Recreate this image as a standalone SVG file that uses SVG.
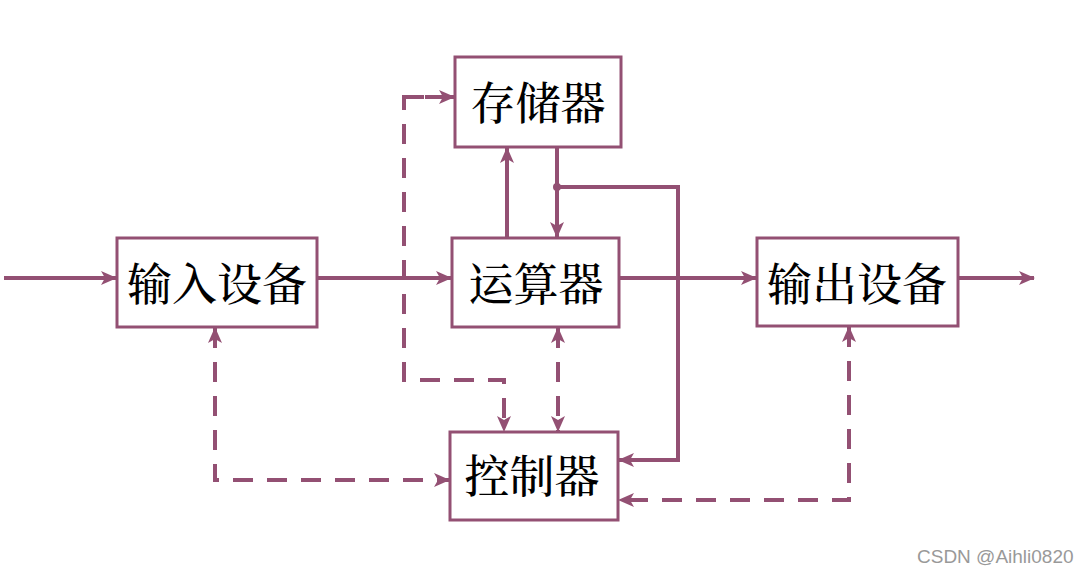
<svg xmlns="http://www.w3.org/2000/svg" width="1088" height="574" viewBox="0 0 1088 574">
<style>
.box{fill:#fff;stroke:#935073;stroke-width:3}
.lbl{font-family:"Noto Serif CJK SC","Noto Sans CJK SC",serif;font-size:45px;font-weight:500;fill:#000;text-anchor:middle;dominant-baseline:central}
.s{fill:none;stroke:#935073;stroke-width:4}
.d{fill:none;stroke:#935073;stroke-width:4;stroke-dasharray:20 14}
.wm{font-family:"Liberation Sans",Arial,sans-serif;font-size:19px;fill:#999}
</style>
<defs>
<marker id="ah" viewBox="0 0 16 14" refX="15" refY="7" markerWidth="16" markerHeight="14" markerUnits="userSpaceOnUse" orient="auto-start-reverse">
<path d="M0,0 L16,7 L0,14 L4,7 Z" fill="#935073"/>
</marker>
</defs>
<g id="connectors">
<path class="s" d="M4,278 H116" marker-end="url(#ah)"/>
<path class="s" d="M318,278 H451" marker-end="url(#ah)"/>
<path class="s" d="M620,278 H756" marker-end="url(#ah)"/>
<path class="s" d="M959,278 H1034" marker-end="url(#ah)"/>
<path class="s" d="M507,237 V148" marker-end="url(#ah)"/>
<path class="s" d="M557,148 V237" marker-end="url(#ah)"/>
<circle cx="557" cy="187" r="4" fill="#935073"/>
<path class="s" d="M557,187 H678 V460 H619" marker-end="url(#ah)"/>
<path class="d" d="M445,97 H404 V380 H504 V431" marker-end="url(#ah)"/>
<path class="d" d="M404,97 H454" marker-end="url(#ah)"/>
<path class="d" d="M558,328 V431" marker-start="url(#ah)" marker-end="url(#ah)"/>
<path class="d" d="M215,328 V480 H449" marker-start="url(#ah)" marker-end="url(#ah)"/>
<path class="d" d="M849,327 V500 H619" marker-start="url(#ah)" marker-end="url(#ah)"/>
</g>
<g id="storage"><rect class="box" x="455" y="57" width="166" height="90"/><text class="lbl" x="538" y="100">存储器</text></g>
<g id="input"><rect class="box" x="117" y="238" width="200" height="89"/><text class="lbl" x="217" y="281">输入设备</text></g>
<g id="alu"><rect class="box" x="452" y="238" width="167" height="89"/><text class="lbl" x="536" y="281">运算器</text></g>
<g id="output"><rect class="box" x="757" y="238" width="201" height="88"/><text class="lbl" x="857" y="281">输出设备</text></g>
<g id="control"><rect class="box" x="450" y="432" width="168" height="88"/><text class="lbl" x="532" y="473">控制器</text></g>
<text class="wm" x="917" y="563">CSDN @Aihli0820</text>
</svg>
